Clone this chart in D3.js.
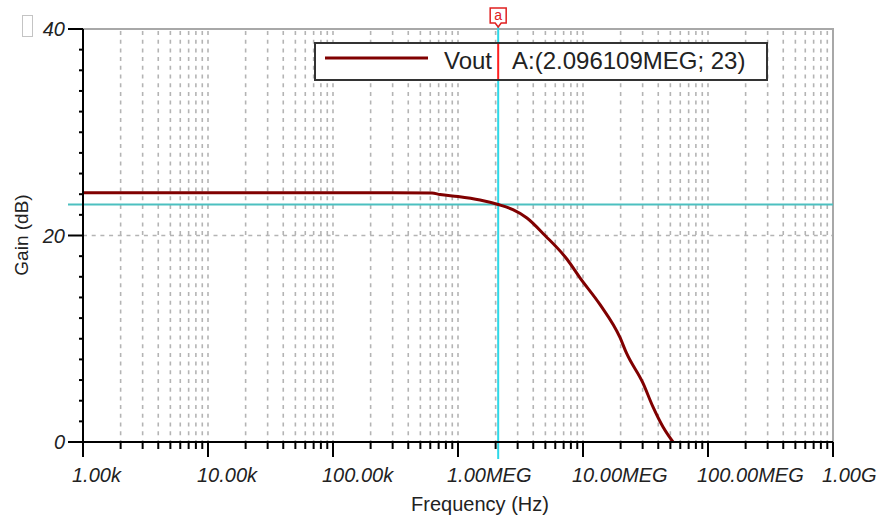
<!DOCTYPE html>
<html>
<head>
<meta charset="utf-8">
<script src="https://cdn.jsdelivr.net/npm/d3@7"></script>
<style>
    html, body { margin: 0; padding: 0; background: #fff; }
    svg { display: block; font-family: "Liberation Sans", Arial, sans-serif; }
</style>
</head>
<body>
<script>
// values
const freqHz = [1e3, 1e4, 1e5, 3e5, 6.19e5, 7.18e5, 1e6, 1.5e6, 2.096109e6, 2.75e6, 3.56e6,
    4.97e6, 7.45e6, 9.46e6, 1.37e7, 1.98e7, 2.23e7, 3.02e7, 3.63e7, 4.37e7, 5.25e7];
const gainDb = [24.15, 24.15, 24.15, 24.15, 24.12, 23.97, 23.78, 23.44, 23.0, 22.5, 21.7,
    20.0, 17.7, 15.9, 13.3, 10.1, 8.6, 5.7, 3.4, 1.45, 0];

const xDecades = [1e3, 1e4, 1e5, 1e6, 1e7, 1e8, 1e9];
const xTickLabels = ["1.00k", "10.00k", "100.00k", "1.00MEG", "10.00MEG", "100.00MEG", "1.00G"];
const yMajor = [0, 20, 40];
const yTickLabels = ["0", "20", "40"];

const seriesName = "Vout";
const cursorFreq = 2.096109e6;
const cursorGain = 23;
const cursorText = "A:(2.096109MEG; 23)";

const W = 882, H = 522;
const plot = { left: 83, right: 833, top: 29, bottom: 442 };

const svg = d3.select("body").append("svg")
    .attr("width", W)
    .attr("height", H);

const x = d3.scaleLog().domain([1e3, 1e9]).range([plot.left, plot.right]);
const y = d3.scaleLinear().domain([0, 40]).range([plot.bottom, plot.top]);

// minor frequencies 2..9 inside every decade
const minorFreq = [];
for (let i = 0; i < xDecades.length - 1; i++) {
    for (let k = 2; k <= 9; k++) minorFreq.push(xDecades[i] * k);
}
const gridFreq = minorFreq.concat(xDecades.slice(1, -1));

// grid
const grid = svg.append("g")
    .attr("stroke", "#b4b4b4")
    .attr("stroke-width", 1.6)
    .attr("stroke-dasharray", "4,4.7");
grid.selectAll("line.v")
    .data(gridFreq).enter()
    .append("line")
    .attr("x1", d => x(d)).attr("x2", d => x(d))
    .attr("y1", plot.top + 2).attr("y2", plot.bottom);
grid.selectAll("line.h")
    .data([20]).enter()
    .append("line")
    .attr("x1", plot.left).attr("x2", plot.right)
    .attr("y1", d => y(d)).attr("y2", d => y(d));

// frame (top and right in grey)
svg.append("path")
    .attr("d", `M${plot.left},${plot.top}H${plot.right}V${plot.bottom}`)
    .attr("fill", "none")
    .attr("stroke", "#a8a8a8")
    .attr("stroke-width", 2);

// cursor cross hair
svg.append("line")
    .attr("x1", 68).attr("x2", plot.right)
    .attr("y1", y(cursorGain)).attr("y2", y(cursorGain))
    .attr("stroke", "#4cc0c0").attr("stroke-width", 2);
svg.append("line")
    .attr("x1", x(cursorFreq)).attr("x2", x(cursorFreq))
    .attr("y1", 24).attr("y2", plot.bottom + 17)
    .attr("stroke", "#2ed8e8").attr("stroke-width", 2);

// curve
const line = d3.line()
    .x((d, i) => x(freqHz[i]))
    .y(d => y(d))
    .curve(d3.curveMonotoneX);
svg.append("path")
    .datum(gainDb)
    .attr("d", line)
    .attr("fill", "none")
    .attr("stroke", "#800000")
    .attr("stroke-width", 3);

// axes
const ax = svg.append("g").attr("stroke", "#000").attr("stroke-width", 2);
ax.append("line").attr("x1", 68).attr("x2", plot.right).attr("y1", plot.bottom).attr("y2", plot.bottom);
ax.append("line").attr("x1", plot.left).attr("x2", plot.left).attr("y1", plot.top).attr("y2", plot.bottom + 15);
ax.selectAll("line.xmaj")
    .data(xDecades).enter()
    .append("line")
    .attr("x1", d => x(d)).attr("x2", d => x(d))
    .attr("y1", plot.bottom).attr("y2", plot.bottom + 15);
ax.selectAll("line.xmin")
    .data(minorFreq).enter()
    .append("line")
    .attr("x1", d => x(d)).attr("x2", d => x(d))
    .attr("y1", plot.bottom).attr("y2", plot.bottom + 7);
ax.selectAll("line.ymaj")
    .data(yMajor).enter()
    .append("line")
    .attr("x1", 68).attr("x2", plot.left)
    .attr("y1", d => y(d)).attr("y2", d => y(d));
ax.selectAll("line.ymin")
    .data(d3.range(2, 40, 2).filter(v => v !== 20)).enter()
    .append("line")
    .attr("x1", plot.left - 4).attr("x2", plot.left)
    .attr("y1", d => y(d)).attr("y2", d => y(d));

// tick labels
svg.selectAll("text.xl")
    .data(xDecades).enter()
    .append("text")
    .attr("x", d => x(d) - 11)
    .attr("y", 482)
    .attr("font-size", 20)
    .attr("font-style", "italic")
    .attr("fill", "#222")
    .text((d, i) => xTickLabels[i]);
svg.selectAll("text.yl")
    .data(yMajor).enter()
    .append("text")
    .attr("x", 65)
    .attr("y", d => y(d) + 7)
    .attr("text-anchor", "end")
    .attr("font-size", 20)
    .attr("font-style", "italic")
    .attr("fill", "#222")
    .text((d, i) => yTickLabels[i]);

// axis titles
svg.append("text")
    .attr("x", 480).attr("y", 511)
    .attr("text-anchor", "middle")
    .attr("font-size", 20)
    .attr("fill", "#222")
    .text("Frequency (Hz)");
svg.append("text")
    .attr("transform", "translate(28,235) rotate(-90)")
    .attr("text-anchor", "middle")
    .attr("font-size", 19)
    .attr("fill", "#222")
    .text("Gain (dB)");

// legend
const lg = svg.append("g");
lg.append("rect")
    .attr("x", 315).attr("y", 43)
    .attr("width", 452).attr("height", 37)
    .attr("fill", "#fff")
    .attr("stroke", "#333").attr("stroke-width", 2);
lg.append("line")
    .attr("x1", 325).attr("x2", 428).attr("y1", 58).attr("y2", 58)
    .attr("stroke", "#800000").attr("stroke-width", 3);
lg.append("text")
    .attr("x", 492).attr("y", 69)
    .attr("text-anchor", "end")
    .attr("font-size", 24)
    .attr("fill", "#222")
    .text(seriesName);
lg.append("line")
    .attr("x1", x(cursorFreq)).attr("x2", x(cursorFreq))
    .attr("y1", 44).attr("y2", 79)
    .attr("stroke", "#ff2020").attr("stroke-width", 2);
lg.append("text")
    .attr("x", 512).attr("y", 69)
    .attr("font-size", 24)
    .attr("fill", "#222")
    .text(cursorText);

// cursor marker "a"
const cx = x(cursorFreq);
svg.append("path")
    .attr("d", `M${cx - 8},8H${cx + 8}V23H${cx + 3}L${cx},27L${cx - 3},23H${cx - 8}Z`)
    .attr("fill", "#fff")
    .attr("stroke", "#e02020").attr("stroke-width", 1.5);
svg.append("text")
    .attr("x", cx).attr("y", 20)
    .attr("text-anchor", "middle")
    .attr("font-size", 14)
    .attr("fill", "#e02020")
    .text("a");

// missing glyph box at top left
svg.append("rect")
    .attr("x", 22.5).attr("y", 15.5)
    .attr("width", 10).attr("height", 21)
    .attr("fill", "none")
    .attr("stroke", "#c4c4c4").attr("stroke-width", 1);
</script>
</body>
</html>
